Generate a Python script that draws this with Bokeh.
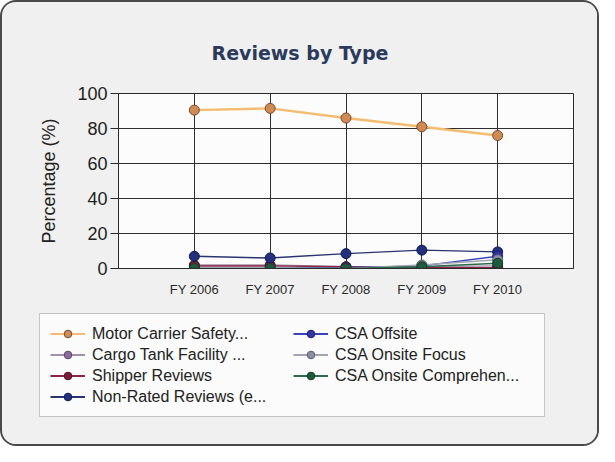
from bokeh.plotting import figure
from bokeh.layouts import column
from bokeh.models import FixedTicker, Legend, LegendItem
from bokeh.embed import file_html
from bokeh.resources import INLINE

# ---- data ----
years = ["FY 2006", "FY 2007", "FY 2008", "FY 2009", "FY 2010"]
series_names = [
    "Motor Carrier Safety...",
    "Cargo Tank Facility ...",
    "Shipper Reviews",
    "Non-Rated Reviews (e...",
    "CSA Offsite",
    "CSA Onsite Focus",
    "CSA Onsite Comprehen...",
]
motor_carrier = [90.5, 91.5, 86.0, 81.0, 76.0]
cargo_tank = [2.0, 2.0, 1.0, 1.0, 1.5]
shipper = [1.5, 1.5, 1.0, 0.5, 0.5]
non_rated = [7.0, 6.0, 8.5, 10.5, 9.5]
csa_offsite = [0.0, 0.0, 0.5, 1.5, 7.0]
csa_focus = [0.0, 0.0, 0.0, 2.0, 5.0]
csa_comprehensive = [0.0, 0.0, 0.0, 1.0, 3.0]
y_ticks = [0, 20, 40, 60, 80, 100]

series_values = [motor_carrier, cargo_tank, shipper, non_rated,
                 csa_offsite, csa_focus, csa_comprehensive]

line_colors = ["#f4bc70", "#a48fad", "#8c2444", "#2a3470", "#3a42b8", "#a2a4b2", "#2b6a4c"]
line_widths = [2.5, 1.5, 1.5, 1.5, 1.5, 1.5, 1.5]
fill_colors = ["#cf8a55", "#8a6c9c", "#7a1c38", "#22307e", "#3236a6", "#8c8ea4", "#1f5a3c"]
edge_colors = ["#7c4a2c", "#5a4468", "#4e1022", "#101a50", "#1c2070", "#5a5c70", "#123a26"]

xs = list(range(len(years)))
BG = "#f0f0f0"

# ---- main chart ----
p = figure(width=595, height=300, output_backend="svg", toolbar_location=None,
           x_range=(-1, 5), y_range=(0, 100),
           min_border_left=116, min_border_right=24,
           min_border_top=91, min_border_bottom=34)
p.frame_align = False
p.background_fill_color = "#fbfcfb"
p.border_fill_color = BG
p.outline_line_color = "#2a2a2a"
p.outline_line_width = 1

p.title.text = "Reviews by Type"
p.title.align = "left"
p.title.offset = 93
p.title.standoff = 60
p.title.text_font = "DejaVu Sans"
p.title.text_font_size = "19px"
p.title.text_font_style = "bold"
p.title.text_color = "#2b3a5c"

p.xaxis.ticker = FixedTicker(ticks=xs)
p.xaxis.major_label_overrides = {i: y for i, y in zip(xs, years)}
p.xaxis.major_tick_out = 0
p.xaxis.major_tick_in = 0
p.xaxis.minor_tick_out = 0
p.xaxis.minor_tick_in = 0
p.xaxis.axis_line_color = "#2a2a2a"
p.xaxis.major_label_text_font = "Liberation Sans"
p.xaxis.major_label_text_font_size = "13px"
p.xaxis.major_label_text_color = "#2a2a2a"
p.xaxis.major_label_standoff = 13

p.yaxis.ticker = FixedTicker(ticks=y_ticks)
p.yaxis.major_tick_out = 8
p.yaxis.major_tick_in = 0
p.yaxis.minor_tick_out = 0
p.yaxis.minor_tick_in = 0
p.yaxis.axis_line_color = "#2a2a2a"
p.yaxis.major_tick_line_color = "#2a2a2a"
p.yaxis.major_label_text_font = "Liberation Sans"
p.yaxis.major_label_text_font_size = "18px"
p.yaxis.major_label_text_color = "#222222"
p.yaxis.major_label_standoff = 3
p.yaxis.axis_label = "Percentage (%)"
p.yaxis.axis_label_text_font = "Liberation Sans"
p.yaxis.axis_label_text_font_size = "18px"
p.yaxis.axis_label_text_font_style = "normal"
p.yaxis.axis_label_text_color = "#222222"
p.yaxis.axis_label_standoff = 15

p.xgrid.grid_line_color = "#2e2e2e"
p.ygrid.grid_line_color = "#2e2e2e"

for vals, lc, lw, fc, ec in zip(series_values, line_colors, line_widths, fill_colors, edge_colors):
    p.line(xs, vals, line_color=lc, line_width=lw)
    p.scatter(xs, vals, size=10, fill_color=fc, line_color=ec, line_width=1)

# ---- legend strip (same series, drawn out of view; only the legend shows) ----
q = figure(width=595, height=142, output_backend="svg", toolbar_location=None,
           x_range=(100, 101), y_range=(1000, 1001),
           x_axis_type=None, y_axis_type=None,
           min_border_left=0, min_border_right=0, min_border_top=0, min_border_bottom=0)
q.frame_align = False
q.background_fill_color = BG
q.border_fill_color = BG
q.outline_line_color = None
q.xgrid.visible = False
q.ygrid.visible = False

items = []
for name, vals, lc, fc, ec in zip(series_names, series_values, line_colors, fill_colors, edge_colors):
    lr = q.line(xs, vals, line_color=lc, line_width=2)
    sr = q.scatter(xs, vals, size=7, fill_color=fc, line_color=ec, line_width=1)
    items.append(LegendItem(label=name, renderers=[lr, sr]))

legend = Legend(items=items, location=(37, 27), nrows=4, orientation="vertical")
legend.label_text_font = "Liberation Sans"
legend.label_text_font_size = "16px"
legend.label_text_color = "#222222"
legend.label_height = 19
legend.label_width = 199
legend.glyph_width = 35
legend.glyph_height = 19
legend.label_standoff = 7
legend.spacing = 2
legend.padding = 10
legend.margin = 0
legend.background_fill_color = "#fafbfa"
legend.border_line_color = "#8e8e8e"
legend.border_line_width = 1
q.add_layout(legend)

layout = column(p, q, spacing=0,
                styles={"border": "2px solid #4a4a4a", "border-radius": "16px",
                        "overflow": "hidden", "background-color": BG})

open("out.html", "w").write(file_html(layout, INLINE))
